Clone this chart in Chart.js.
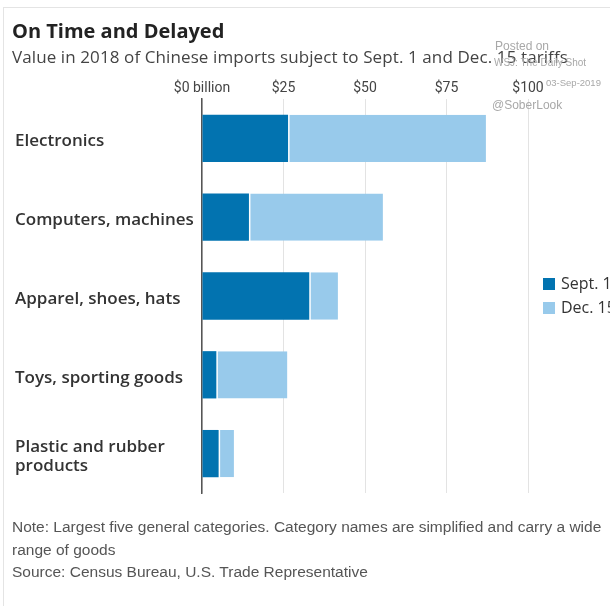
<!DOCTYPE html>
<html>
<head>
<meta charset="utf-8">
<script src="https://cdn.jsdelivr.net/npm/chart.js@4/dist/chart.umd.min.js"></script>
<style>
    html, body { margin: 0; padding: 0; background: #fff; overflow: hidden; }
    #wrap { position: relative; width: 610px; height: 606px; overflow: hidden; }
    #frame { position: absolute; left: 3px; top: 7px; width: 620px; height: 620px;
             border-left: 1px solid #e4e4e4; border-top: 1px solid #e4e4e4; }
    canvas { position: absolute; left: 0; top: 0; }
    .txt { position: absolute; white-space: nowrap; }
    #title { left: 12px; top: 17px; font: 700 20px "Open Sans", sans-serif; color: #222; }
    #subtitle { left: 12px; top: 45px; font: 400 17px "Open Sans", sans-serif; color: #444; letter-spacing: 0.1px; }
    .stamp { color: #a8a8a8; font-family: "Liberation Sans", sans-serif; }
    #notes { left: 12px; top: 516px; font: 400 15.5px "Liberation Sans", sans-serif;
             color: #555; line-height: 22.5px; white-space: normal; width: 610px; }
    #legend { position: absolute; left: 543px; top: 272px; font: 400 16px "Open Sans", sans-serif; color: #333; }
    #legend div { height: 24px; white-space: nowrap; }
    #legend span { display: inline-block; width: 12px; height: 12px; margin-right: 6px; vertical-align: -1px; }
</style>
</head>
<body>
<div id="wrap">
    <div id="frame"></div>
    <canvas id="tariffChart" width="610" height="606"></canvas>
    <div class="txt" id="title">On Time and Delayed</div>
    <div class="txt" id="subtitle">Value in 2018 of Chinese imports subject to Sept. 1 and Dec. 15 tariffs</div>
    <div class="txt stamp" style="left:495px; top:39px; font-size:12px;">Posted on</div>
    <div class="txt stamp" style="left:494px; top:57px; font-size:10px;">WSJ: The Daily Shot</div>
    <div class="txt stamp" style="left:546px; top:77px; font-size:9.5px;">03-Sep-2019</div>
    <div class="txt stamp" style="left:492px; top:98px; font-size:12px;">@SoberLook</div>
    <div id="legend"></div>
    <div class="txt" id="notes">Note: Largest five general categories. Category names are simplified and carry a wide range of goods<br>Source: Census Bureau, U.S. Trade Representative</div>
</div>

<script>
// categories and values in $ billion (2018 imports)
const categories = [
    "Electronics",
    "Computers, machines",
    "Apparel, shoes, hats",
    "Toys, sporting goods",
    ["Plastic and rubber", "products"]
];
const sept1 = [26.4, 14.4, 32.9, 4.4, 5.1];
const dec15 = [60.7, 41.1, 8.8, 21.8, 4.7];
const tickValues = [0, 25, 50, 75, 100];
const seriesNames = ["Sept. 1", "Dec. 15"];
const seriesColors = ["#0273b0", "#98caeb"];

let chartInstance = null;

function loadChart() {
    const ctx = document.getElementById("tariffChart").getContext("2d");

    if (chartInstance) {
        chartInstance.destroy();
    }

    chartInstance = new Chart(ctx, {
        type: "bar",
        data: {
            labels: categories,
            datasets: [
                {
                    label: seriesNames[0],
                    data: sept1,
                    backgroundColor: seriesColors[0],
                    borderWidth: 0
                },
                {
                    label: seriesNames[1],
                    data: dec15,
                    backgroundColor: seriesColors[1],
                    borderColor: "#ffffff",
                    borderWidth: { left: 1.5, right: 0, top: 0, bottom: 0 },
                    borderSkipped: false
                }
            ]
        },
        options: {
            indexAxis: "y",
            responsive: false,
            animation: false,
            events: [],
            layout: {
                padding: { left: 15, right: 82, top: 74, bottom: 113 }
            },
            datasets: {
                bar: { barPercentage: 0.6, categoryPercentage: 1 }
            },
            plugins: {
                legend: { display: false },
                tooltip: { enabled: false }
            },
            scales: {
                x: {
                    position: "top",
                    stacked: true,
                    min: 0,
                    max: 100,
                    afterFit: s => { s.height = 25; },
                    afterBuildTicks: s => { s.ticks = tickValues.map(v => ({ value: v })); },
                    border: { display: false },
                    grid: { color: "#e3e3e3", lineWidth: 1, drawTicks: false },
                    ticks: {
                        padding: 2,
                        color: "#444",
                        font: { family: "Roboto, sans-serif", size: 14 },
                        callback: v => v === 0 ? "$0 billion" : "$" + v
                    }
                },
                y: {
                    stacked: true,
                    afterFit: s => { s.width = 187; },
                    border: { display: true, color: "#555", width: 1.5 },
                    grid: { display: false },
                    ticks: {
                        crossAlign: "far",
                        labelOffset: 3,
                        color: "#333",
                        font: { family: "'Open Sans', sans-serif", size: 17, weight: "600", lineHeight: 1.15 }
                    }
                }
            }
        }
    });

    // legend built from the datasets
    const legend = document.getElementById("legend");
    chartInstance.data.datasets.forEach(ds => {
        const row = document.createElement("div");
        const box = document.createElement("span");
        box.style.background = ds.backgroundColor;
        row.appendChild(box);
        row.appendChild(document.createTextNode(ds.label));
        legend.appendChild(row);
    });
}

window.onload = function () {
    loadChart();
};
</script>
</body>
</html>
